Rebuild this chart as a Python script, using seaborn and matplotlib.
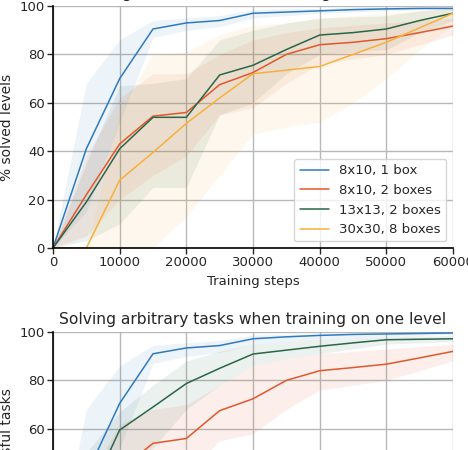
import pandas as pd
import numpy as np
import matplotlib
matplotlib.use('Agg')
import matplotlib.pyplot as plt
import seaborn as sns

# Data
steps = [0, 5000, 10000, 15000, 20000, 25000, 30000, 35000, 40000, 45000, 50000, 55000, 60000]
labels = ['8x10, 1 box', '8x10, 2 boxes', '13x13, 2 boxes', '30x30, 8 boxes']
colors = ['#2f7abf', '#e2572b', '#2a6648', '#f6b13a']

# top panel: % solved levels
blue_mean = [0, 41, 70, 90.5, 93, 94, 97, 97.5, 98, 98.5, 98.8, 99, 99]
blue_low = [0, 15, 52, 87, 90, 91.5, 95, 96, 97, 97.5, 98, 98.5, 98.5]
blue_high = [0, 68, 86, 94, 95, 96, 98.5, 99, 99, 99.5, 99.5, 99.5, 99.5]
red_mean = [0, 22, 43, 54.5, 56, 67.5, 72.5, 80, 84, 85, 86.5, 89, 91.7]
red_low = [0, 5, 20, 30, 38, 55, 58, 68, 76, 78, 80, 84, 88]
red_high = [0, 38, 62, 72, 72, 80, 86, 89, 91, 92, 93, 94, 95]
green_mean = [0, 19, 41, 54, 54, 71.5, 75.5, 82, 88, 89, 90.5, 94, 97]
green_low = [0, 3, 10, 25, 25, 55, 60, 72, 80, 81, 82, 89, 94]
green_high = [0, 35, 67, 68, 70, 86, 90, 93, 95, 95.5, 96, 98, 99]
yellow_mean = [0, 0, 28, 39.5, 51.5, 62, 72, 73.5, 75, 80, 85, 91, 97]
yellow_low = [0, 0, 0, 0, 13, 30, 47, 50, 52, 60, 70, 82, 92]
yellow_high = [0, 0, 57, 80, 81, 88, 92, 93, 95, 96, 97, 98, 99]

# bottom panel: % successful tasks
task_blue_mean = [0, 41, 70.5, 91, 93.4, 94.4, 97.2, 98, 98.6, 99, 99.2, 99.4, 99.6]
task_blue_low = [0, 15, 52, 87, 90, 91.5, 95, 96, 97, 97.5, 98, 98.5, 99]
task_blue_high = [0, 68, 86, 94.5, 95.5, 96.5, 98.8, 99, 99.2, 99.5, 99.6, 99.7, 99.8]
task_green_mean = [0, 30, 59.5, 69, 78.7, 85, 90.9, 92.5, 94.1, 95.5, 96.8, 97, 97.2]
task_green_low = [0, 10, 45, 52, 68, 78, 86, 89, 91, 93, 95, 95.5, 96]
task_green_high = [0, 50, 67, 78, 88, 92, 95, 96, 97, 97.5, 98, 98.3, 98.5]
task_red_mean = [0, 22, 43, 54, 56, 67.5, 72.4, 80, 84, 85.3, 86.7, 89.3, 92]
task_red_low = [0, 5, 20, 30, 42, 55, 58, 68, 76, 78, 80, 84, 88]
task_red_high = [0, 38, 62, 68, 70, 78, 86, 89, 91, 92, 93, 94, 95]

top = pd.DataFrame({
    'step': steps * 4,
    'value': blue_mean + red_mean + green_mean + yellow_mean,
    'low': blue_low + red_low + green_low + yellow_low,
    'high': blue_high + red_high + green_high + yellow_high,
    'run': np.repeat(labels, len(steps)),
})
bottom = pd.DataFrame({
    'step': steps * 3,
    'value': task_blue_mean + task_red_mean + task_green_mean,
    'low': task_blue_low + task_red_low + task_green_low,
    'high': task_blue_high + task_red_high + task_green_high,
    'run': np.repeat(labels[:3], len(steps)),
})

sns.set_style('whitegrid', {'grid.color': '#b8b8b8', 'axes.edgecolor': 'black',
                            'xtick.bottom': True, 'ytick.left': True})
plt.rcParams['font.family'] = ['DejaVu Sans']
palette = dict(zip(labels, colors))

fig = plt.figure(figsize=(4.68, 4.5), dpi=100)
ax1 = fig.add_axes([53 / 468, (450 - 248) / 450, 400 / 468, 242 / 450])
ax2 = fig.add_axes([53 / 468, (450 - 574) / 450, 400 / 468, 242 / 450])


def draw(ax, df, title, ylabel, legend):
    for name, grp in df.groupby('run', sort=False):
        ax.fill_between(grp['step'], grp['low'], grp['high'],
                        color=palette[name], alpha=0.09, linewidth=0)
    sns.lineplot(data=df, x='step', y='value', hue='run', palette=palette,
                 linewidth=1.1, ax=ax, legend=legend)
    ax.set_xlim(0, 60000)
    ax.set_ylim(0, 100)
    ax.set_xticks(range(0, 60001, 10000))
    ax.set_yticks(range(0, 101, 20))
    ax.set_title(title, fontsize=11.2)
    ax.set_ylabel(ylabel, fontsize=10)
    ax.set_xlabel('Training steps', fontsize=9.5)
    ax.tick_params(labelsize=9.5, length=4, width=1, pad=2)
    ax.grid(True, linewidth=1)
    sns.despine(ax=ax)
    for s in ['left', 'bottom']:
        ax.spines[s].set_linewidth(1.2)


draw(ax1, top, 'Solving new levels when training on one level', '% solved levels', True)
ax1.legend(loc='lower right', fontsize=9.5, frameon=True, title=None,
           borderaxespad=0.5, handlelength=2.2)

draw(ax2, bottom, 'Solving arbitrary tasks when training on one level', '% successful tasks', False)

fig.savefig('out.png', dpi=100)
